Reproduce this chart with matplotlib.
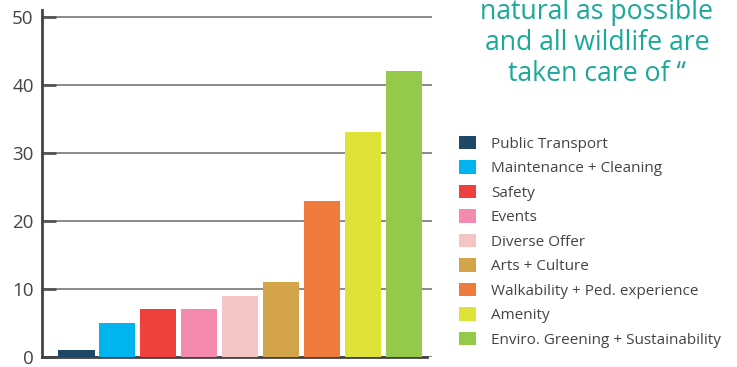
import matplotlib.pyplot as plt
import matplotlib

matplotlib.rcParams['font.family'] = ['Open Sans', 'DejaVu Sans']

# data
categories = ['Public Transport', 'Maintenance + Cleaning', 'Safety', 'Events',
              'Diverse Offer', 'Arts + Culture', 'Walkability + Ped. experience',
              'Amenity', 'Enviro. Greening + Sustainability']
values = [1, 5, 7, 7, 9, 11, 23, 33, 42]
colors = ['#1f4868', '#00b4f0', '#ee403d', '#f48aad', '#f5c4c4',
          '#d4a44a', '#ee7a3b', '#dfe238', '#94c94a']
yticks = [0, 10, 20, 30, 40, 50]
quote = 'natural as possible\nand all wildlife are\ntaken care of \u201c'

fig = plt.figure(figsize=(7.37, 3.67), dpi=100)
ax = fig.add_axes([42 / 737, 10 / 367, 390 / 737, 347 / 367])

x = range(len(values))
bars = ax.bar(x, values, width=0.88, color=colors, zorder=3)

ax.set_ylim(0, 51)
ax.set_xlim(-0.843, 8.685)
ax.set_yticks(yticks)
ax.set_xticks([])
ax.yaxis.grid(True, color='#8a8a8a', linewidth=1.4, zorder=0)
ax.tick_params(axis='y', direction='in', length=10, width=2, color='#555555',
               labelsize=13.5, labelcolor='#444444', pad=6)
for side in ['top', 'right']:
    ax.spines[side].set_visible(False)
for side in ['left', 'bottom']:
    ax.spines[side].set_color('#444444')
    ax.spines[side].set_linewidth(2)
ax.spines['bottom'].set_bounds(-0.843, 8.56)

# quote text top right
fig.text(597 / 737, 1 - 43 / 367, quote, color='#1aa89a', fontsize=19.2,
         ha='center', va='center', linespacing=1.12)

fig.legend(bars, categories, loc='upper left', bbox_to_anchor=(445 / 737, 1 - 122 / 367),
           frameon=False, fontsize=11, handlelength=1.15, handleheight=1.0,
           handletextpad=0.95, labelspacing=0.55, labelcolor='#444444')

plt.savefig('out.png', dpi=100)
